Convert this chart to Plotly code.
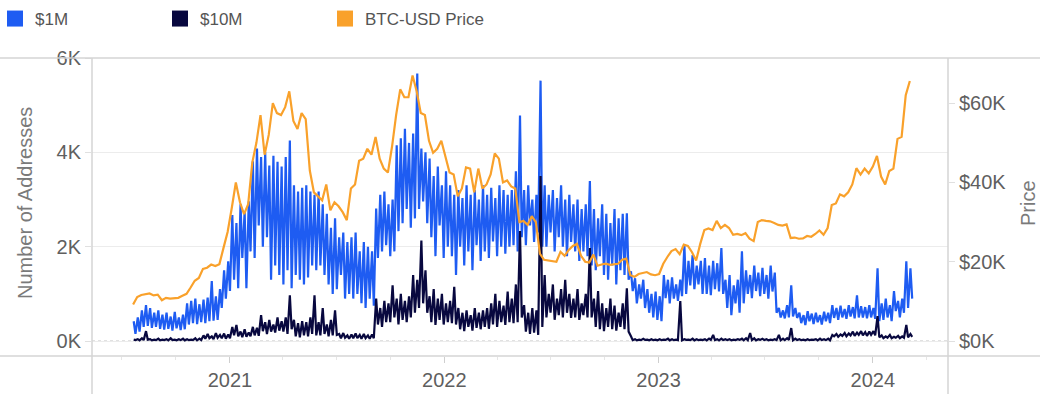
import pandas as pd
import plotly.graph_objects as go

# ---------------- data (weekly readings, week starting Mondays) ----------------
week_start = "2020-07-20"

btc_price = [
    9200, 11100, 11600, 11800, 12000, 11500, 11700, 10300, 10900, 10700,
    10800, 10900, 11400, 11900, 13500, 15200, 15900, 18200, 18500, 19300,
    18900, 19400, 23500, 27500, 33500, 40000, 35000, 32000, 34500, 45000,
    50000, 57000, 47000, 52000, 60000, 57500, 57000, 59000, 63000, 55500,
    53500, 57500, 56000, 43000, 37500, 36500, 35500, 39500, 33000, 35000,
    34000, 32500, 30500, 38500, 39500, 45500, 46000, 48500, 47000, 51500,
    46000, 43500, 42500, 49000, 57000, 63500, 61500, 61500, 67000, 63000,
    57500, 57000, 50500, 47500, 48500, 50500, 46500, 42500, 42000, 36500,
    38500, 43800, 43500, 37500, 43500, 38500, 39500, 42000, 47300, 46000,
    40000, 40500, 39000, 38500, 30000, 30300, 29300, 31500, 30000, 22000,
    20500, 20300, 20200, 20000, 22500, 21500, 23000, 24000, 24500, 21500,
    20000, 19800, 21800, 19000, 19300, 19500, 19200, 19300, 19500, 20500,
    20800, 16600, 16200, 16900, 17100, 17400, 16800, 16600, 16900, 19500,
    21200, 22700, 23200, 21900, 24300, 24000, 22400, 20300, 24500, 28000,
    28400, 28000, 30300, 28500, 29300, 28500, 26800, 27000, 26700, 27200,
    25800, 25200, 30000, 30500, 30300, 30200, 29800, 29300, 29100, 29400,
    26000, 26100, 25800, 25900, 26500, 26300, 27000, 27900, 26800, 28500,
    34300, 34700, 37000, 36500, 37500, 39500, 43600, 42000, 43500, 42300,
    44000, 46700, 41500, 39500, 42900, 43500, 51000, 51500, 62000, 65600,
]

# $1M addresses: weekly high (weekday) and low (weekend) readings
m1_high = [
    420, 500, 650, 760, 700, 600, 650, 560, 600, 520,
    620, 500, 560, 800, 850, 900, 780, 880, 920, 1270,
    950, 1100, 1500, 1690, 2670, 2500, 2900, 2750, 2960, 3810,
    4080, 3900, 4000, 3720, 3930, 3800, 3700, 3900, 4250, 3300,
    3170, 3250, 3300, 3170, 3100, 3170, 2900, 2700, 2400, 2600,
    2200, 2300, 2100, 2200, 2300, 1900, 2100, 2000, 1900, 2810,
    3100, 3170, 2900, 3000, 4150, 4300, 4500, 4200, 4400, 5670,
    4080, 4000, 3870, 3500, 3700, 3300, 3600, 3300, 3100, 3200,
    3030, 3300, 3100, 3200, 3000, 3300, 3100, 3250, 3030, 3300,
    3200, 3100, 3200, 3600, 4780, 3200, 3300, 3000, 3100, 5520,
    3300, 3100, 3200, 3030, 3300, 3000, 3100, 2900, 3000, 2800,
    2900, 3390, 2800, 2600, 2900, 2700, 2500, 2800, 2600, 2700,
    2710, 1480, 1330, 1200, 1300, 1100, 1000, 1050, 950, 1400,
    1300, 1350, 1200, 1300, 2030, 1700, 1820, 1600, 1700, 1760,
    1600, 1700, 1650, 1970, 1300, 1400, 1180, 1300, 1900, 1500,
    1400, 1600, 1450, 1550, 1400, 1600, 1450, 700, 650, 760,
    1180, 700, 600, 550, 635, 580, 600, 550, 620, 600,
    760, 700, 750, 680, 760, 720, 970, 740, 720, 760,
    700, 1540, 800, 900, 760, 1060, 850, 900, 1690, 1540,
]
m1_low = [
    150, 200, 300, 320, 280, 300, 260, 240, 260, 220,
    270, 230, 250, 350, 380, 360, 400, 380, 420, 430,
    450, 700, 900, 1060, 1300, 1120, 1760, 1120, 1900, 1760,
    2450, 2000, 2200, 1300, 1600, 1400, 1200, 1500, 1120, 1400,
    1300, 1200, 1350, 1600, 1500, 1600, 1400, 1200, 1000, 1100,
    1400, 900, 1000, 900, 1000, 800, 700, 900, 750, 1760,
    1900, 2030, 1800, 1900, 2330, 2500, 2800, 2400, 2600, 2800,
    2960, 2500, 2200, 1800, 2450, 1760, 2000, 1800, 1400, 2000,
    1600, 1900, 1500, 2030, 1700, 1900, 1760, 2110, 1800, 2000,
    1850, 2000, 2030, 1900, 2200, 2030, 2450, 2100, 2300, 2000,
    2000, 2300, 1900, 2200, 2000, 1800, 2100, 1900, 1700, 1900,
    1800, 1600, 1500, 1800, 1400, 1300, 1600, 1200, 1500, 1400,
    1300, 1060, 800, 900, 700, 600, 500, 450, 420, 910,
    800, 900, 850, 950, 1000, 1180, 1100, 1200, 1000, 1000,
    970, 1100, 1050, 1000, 700, 550, 800, 600, 800, 1000,
    910, 1060, 950, 1000, 900, 1050, 600, 500, 480, 500,
    520, 490, 380, 340, 420, 360, 400, 350, 420, 380,
    490, 450, 500, 470, 520, 480, 500, 500, 480, 500,
    470, 420, 450, 500, 420, 635, 500, 600, 700, 900,
]

# $10M addresses: weekly high and low readings
m10_high = [
    30, 40, 60, 210, 40, 30, 50, 30, 40, 60,
    30, 40, 50, 40, 30, 60, 50, 120, 150, 100,
    170, 130, 160, 140, 300, 340, 200, 250, 180, 300,
    280, 550, 400, 450, 350, 500, 420, 500, 970, 450,
    380, 420, 400, 500, 970, 400, 700, 350, 450, 650,
    150, 170, 120, 140, 160, 130, 150, 120, 140, 900,
    700, 850, 800, 1180, 900, 1000, 850, 950, 1400, 1300,
    2130, 1500, 950, 1100, 900, 1000, 800, 850, 1150, 700,
    600, 650, 550, 700, 600, 650, 700, 800, 1000, 850,
    750, 1050, 900, 1200, 2330, 760, 600, 700, 650, 3500,
    1400, 1000, 1200, 900, 1100, 1300, 1000, 900, 1100, 800,
    1000, 1970, 900, 1060, 800, 700, 900, 750, 600, 800,
    1120, 100, 40, 30, 50, 30, 40, 30, 40, 30,
    50, 40, 30, 850, 40, 30, 50, 40, 30, 40,
    50, 130, 40, 50, 40, 40, 30, 40, 50, 60,
    170, 60, 40, 50, 40, 30, 40, 130, 50, 60,
    275, 50, 40, 30, 40, 30, 40, 50, 40, 50,
    130, 150, 140, 170, 160, 200, 180, 210, 190, 200,
    210, 530, 120, 100, 130, 90, 110, 100, 340, 150,
]
m10_low = [
    20, 15, 20, 30, 15, 20, 15, 20, 15, 20,
    15, 20, 15, 20, 20, 15, 20, 50, 60, 40,
    70, 60, 50, 60, 120, 100, 80, 90, 100, 120,
    110, 210, 150, 200, 180, 220, 200, 150, 250, 100,
    80, 120, 100, 150, 120, 120, 150, 100, 120, 130,
    60, 70, 50, 60, 60, 50, 60, 50, 60, 350,
    300, 400, 400, 500, 350, 450, 400, 500, 600, 700,
    800, 600, 400, 340, 450, 350, 400, 380, 350, 250,
    210, 300, 220, 280, 250, 300, 260, 350, 300, 400,
    340, 400, 380, 400, 500, 200, 150, 180, 130, 300,
    500, 600, 450, 550, 500, 600, 490, 500, 450, 550,
    500, 500, 300, 250, 210, 300, 250, 220, 300, 250,
    200, 20, 15, 20, 25, 15, 20, 15, 20, 25,
    15, 20, 20, 15, 25, 20, 15, 20, 20, 15,
    25, 20, 15, 20, 20, 15, 20, 25, 15, 20,
    20, 15, 25, 20, 15, 20, 20, 15, 20, 25,
    15, 20, 20, 15, 20, 25, 15, 20, 20, 15,
    100, 90, 110, 100, 120, 110, 130, 120, 110, 130,
    120, 80, 60, 70, 60, 70, 60, 70, 80, 90,
]

year_ticks = ["2021-01-01", "2022-01-01", "2023-01-01", "2024-01-01"]
year_labels = ["2021", "2022", "2023", "2024"]
left_ticks = [0, 2000, 4000, 6000]
left_labels = ["0K", "2K", "4K", "6K"]
right_ticks = [0, 20000, 40000, 60000]
right_labels = ["$0K", "$20K", "$40K", "$60K"]

series_names = ["$1M", "$10M", "BTC-USD Price"]
series_colors = ["#1E5CF2", "#08083F", "#F9A12B"]

# ---------------- build ----------------
weeks = pd.date_range(week_start, periods=len(btc_price), freq="7D")
x_hl, y_m1, y_m10 = [], [], []
for w, h1, l1, h10, l10 in zip(weeks, m1_high, m1_low, m10_high, m10_low):
    x_hl += [w + pd.Timedelta(days=1), w + pd.Timedelta(days=4)]
    y_m1 += [h1, l1]
    y_m10 += [h10, l10]

W, H = 1055, 394
PL, PR, PT, PB = 92, 948, 58, 356
FONT = "Liberation Sans, Arial, sans-serif"

fig = go.Figure()
fig.add_trace(go.Scatter(x=x_hl, y=y_m1, mode="lines", name=series_names[0],
                         line=dict(color=series_colors[0], width=2.2), showlegend=False))
fig.add_trace(go.Scatter(x=x_hl, y=y_m10, mode="lines", name=series_names[1],
                         line=dict(color=series_colors[1], width=2.2), showlegend=False))
fig.add_trace(go.Scatter(x=weeks, y=btc_price, mode="lines", name=series_names[2],
                         line=dict(color=series_colors[2], width=2.2), yaxis="y2",
                         showlegend=False))
# legend entries (square swatches)
for nm, col in zip(series_names, series_colors):
    fig.add_trace(go.Scatter(x=[None], y=[None], mode="markers", name=nm,
                             marker=dict(symbol="square", size=18, color=col)))

tickfont = dict(family=FONT, size=20, color="#5f5f5f")
fig.update_layout(
    template="none",
    width=W, height=H, autosize=False,
    margin=dict(l=0, r=0, t=0, b=0, pad=0, autoexpand=False),
    paper_bgcolor="white", plot_bgcolor="white",
    font=dict(family=FONT, color="#5f5f5f"),
    showlegend=True,
    legend=dict(orientation="h", x=-5 / W, y=1 - 1 / H, xanchor="left", yanchor="top",
                font=dict(family=FONT, size=17, color="#555555"),
                entrywidth=120, entrywidthmode="pixels", itemsizing="trace",
                bgcolor="rgba(0,0,0,0)", borderwidth=0, traceorder="normal"),
    xaxis=dict(type="date", domain=[PL / W, PR / W], anchor="y", automargin=False,
               range=["2020-05-11", "2024-05-08"],
               tickmode="array", tickvals=year_ticks, ticktext=year_labels,
               ticks="outside", ticklen=6, tickcolor="#cfcfcf",
               showgrid=False, zeroline=False, showline=False,
               tickfont=tickfont,
               minor=dict(dtick="M3", tick0="2021-01-01", ticks="outside",
                          ticklen=3, tickcolor="#e6e6e6", showgrid=False)),
    yaxis=dict(domain=[(H - PB) / H, (H - PT) / H], range=[-317, 6000], automargin=False,
               tickmode="array", tickvals=left_ticks, ticktext=left_labels,
               ticks="outside", ticklen=6, tickcolor="#e0e0e0",
               showgrid=True, gridcolor="#ececec", gridwidth=1,
               zeroline=False, showline=False, tickfont=tickfont),
    yaxis2=dict(overlaying="y", side="right", anchor="x", range=[-3780, 71400],
                automargin=False,
                tickmode="array", tickvals=right_ticks, ticktext=right_labels,
                ticks="outside", ticklen=6, tickcolor="#e0e0e0",
                showgrid=False, zeroline=False, showline=False, tickfont=tickfont),
    shapes=[
        dict(type="line", xref="paper", yref="paper", x0=0, x1=1040 / W,
             y0=(H - PT) / H, y1=(H - PT) / H, line=dict(color="#d4d4d4", width=1.5)),
        dict(type="line", xref="paper", yref="paper", x0=0, x1=1040 / W,
             y0=(H - PB) / H, y1=(H - PB) / H, line=dict(color="#d4d4d4", width=1.5)),
        dict(type="line", xref="paper", yref="paper", x0=PL / W, x1=PL / W,
             y0=0, y1=(H - PT) / H, line=dict(color="#d4d4d4", width=1.5)),
        dict(type="line", xref="paper", yref="paper", x0=PR / W, x1=PR / W,
             y0=0, y1=(H - PT) / H, line=dict(color="#d4d4d4", width=1.5)),
        dict(type="line", xref="paper", yref="y", x0=PL / W, x1=PR / W, y0=0, y1=0,
             line=dict(color="#bdbdbd", width=1, dash="dot"), layer="below"),
    ],
    annotations=[
        dict(text="Number of Addresses", textangle=-90, xref="paper", yref="paper",
             x=25 / W, y=(H - 203) / H, showarrow=False, xanchor="center", yanchor="middle",
             font=dict(family=FONT, size=20, color="#7a7a7a")),
        dict(text="Price", textangle=-90, xref="paper", yref="paper",
             x=1028 / W, y=(H - 203) / H, showarrow=False, xanchor="center", yanchor="middle",
             font=dict(family=FONT, size=20, color="#7a7a7a")),
    ],
)

fig.write_html("out.html", config={"displayModeBar": False},
               post_script="document.body.style.margin='0';")
